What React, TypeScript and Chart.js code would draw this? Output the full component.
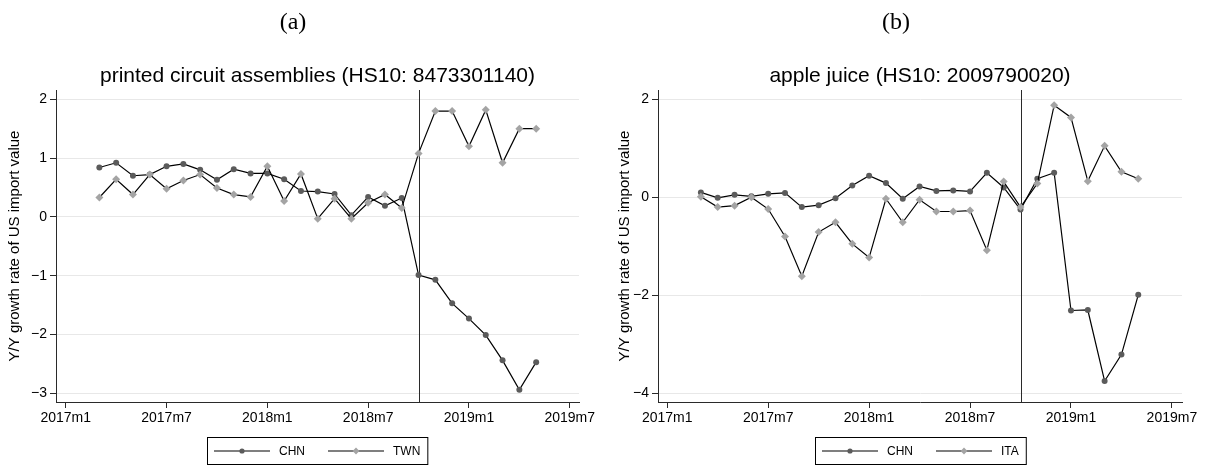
import React, { useEffect, useRef } from "react";
import { Chart, registerables } from "chart.js";

Chart.register(...registerables);

// ---------- data ----------
const months = [
  "2017m3", "2017m4", "2017m5", "2017m6", "2017m7", "2017m8", "2017m9", "2017m10", "2017m11", "2017m12",
  "2018m1", "2018m2", "2018m3", "2018m4", "2018m5", "2018m6", "2018m7", "2018m8", "2018m9", "2018m10", "2018m11", "2018m12",
  "2019m1", "2019m2", "2019m3", "2019m4", "2019m5",
];
const tickMonths = ["2017m1", "2017m7", "2018m1", "2018m7", "2019m1", "2019m7"];
const policyMonth = "2018m10";

const pcaChn = [
  0.84, 0.92, 0.70, 0.72, 0.86, 0.90, 0.80, 0.63, 0.81, 0.74,
  0.74, 0.64, 0.44, 0.43, 0.39, 0.03, 0.34, 0.19, 0.32, -0.99, -1.07, -1.47,
  -1.73, -2.01, -2.44, -2.94, -2.47,
];
const pcaTwn = [
  0.33, 0.64, 0.38, 0.72, 0.48, 0.62, 0.72, 0.49, 0.38, 0.34,
  0.86, 0.27, 0.73, -0.03, 0.31, -0.03, 0.24, 0.38, 0.15, 1.08, 1.80, 1.80,
  1.20, 1.82, 0.92, 1.50, 1.50,
];
const ajChn = [
  0.10, -0.01, 0.05, 0.02, 0.07, 0.09, -0.20, -0.16, -0.02, 0.24,
  0.44, 0.29, -0.03, 0.22, 0.13, 0.14, 0.12, 0.50, 0.20, -0.25, 0.38, 0.50,
  -2.31, -2.30, -3.75, -3.21, -1.99,
];
const ajIta = [
  0.01, -0.20, -0.17, 0.00, -0.24, -0.80, -1.61, -0.71, -0.51, -0.95,
  -1.23, -0.03, -0.51, -0.05, -0.29, -0.29, -0.27, -1.08, 0.32, -0.20, 0.28, 1.88,
  1.63, 0.33, 1.05, 0.52, 0.38,
];
const pcaYTicks = [-3, -2, -1, 0, 1, 2];
const ajYTicks = [-4, -2, 0, 2];

const yTitle = "Y/Y growth rate of US import value";

// ---------- helpers ----------
function monthIndex(s: string): number {
  const [y, m] = s.split("m");
  return (Number(y) - 2017) * 12 + Number(m) - 1;
}
function monthLabel(v: number): string {
  const y = 2017 + Math.floor(v / 12);
  const m = (v % 12) + 1;
  return `${y}m${m}`;
}
function fmtY(v: number): string {
  return v < 0 ? "\u2212" + Math.abs(v) : String(v);
}

const SANS = "'Liberation Sans', Arial, Helvetica, sans-serif";
const SERIF = "'Liberation Serif', 'DejaVu Serif', serif";
const CHN_COLOR = "#5b5b5b";
const OTHER_COLOR = "#a4a4a4";
const AXIS_COLOR = "#2a2a2a";

function drawMarker(ctx: CanvasRenderingContext2D, style: string, x: number, y: number, r: number, color: string) {
  ctx.fillStyle = color;
  ctx.beginPath();
  if (style === "circle") {
    ctx.arc(x, y, r, 0, Math.PI * 2);
  } else {
    ctx.moveTo(x, y - r);
    ctx.lineTo(x + r, y);
    ctx.lineTo(x, y + r);
    ctx.lineTo(x - r, y);
    ctx.closePath();
  }
  ctx.fill();
}

const panelDeco = {
  id: "panelDeco",
  beforeDatasetsDraw(chart: any, _args: any, opts: any) {
    const { ctx, chartArea, scales } = chart;
    const x = Math.round(scales.x.getPixelForValue(monthIndex(opts.vline))) + 0.5;
    ctx.save();
    ctx.strokeStyle = AXIS_COLOR;
    ctx.lineWidth = 1;
    ctx.beginPath();
    ctx.moveTo(x, chartArea.top);
    ctx.lineTo(x, chartArea.bottom);
    ctx.stroke();
    ctx.restore();
  },
  afterDraw(chart: any, _args: any, opts: any) {
    const { ctx, chartArea } = chart;
    const cx = (chartArea.left + chartArea.right) / 2;
    ctx.save();
    // panel label
    ctx.fillStyle = "#000";
    ctx.font = `24px ${SERIF}`;
    ctx.textAlign = "center";
    ctx.textBaseline = "middle";
    ctx.fillText(opts.label, opts.labelX, 23);
    // subtitle
    ctx.font = `21px ${SANS}`;
    ctx.textBaseline = "alphabetic";
    ctx.fillText(opts.subtitle, cx, 82);
    // legend
    ctx.font = `12px ${SANS}`;
    const pad = 7, lineLen = 56, gapText = 9, gapEntry = 23;
    const entries = opts.entries as { text: string; color: string; style: string }[];
    let total = pad * 2;
    entries.forEach((e, i) => {
      total += lineLen + gapText + ctx.measureText(e.text).width;
      if (i > 0) total += gapEntry;
    });
    const left = Math.round(cx - total / 2);
    const top = 437;
    const h = 27;
    const midY = top + h / 2;
    ctx.strokeStyle = "#000";
    ctx.lineWidth = 1;
    ctx.strokeRect(left + 0.5, top + 0.5, total, h);
    let x = left + pad;
    entries.forEach((e, i) => {
      if (i > 0) x += gapEntry;
      ctx.strokeStyle = "#000";
      ctx.lineWidth = 1.1;
      ctx.beginPath();
      ctx.moveTo(x, midY + 0.5);
      ctx.lineTo(x + lineLen, midY + 0.5);
      ctx.stroke();
      drawMarker(ctx, e.style, x + lineLen / 2, midY + 0.5, e.style === "circle" ? 2.6 : 3.4, e.color);
      x += lineLen + gapText;
      ctx.fillStyle = "#000";
      ctx.textAlign = "left";
      ctx.textBaseline = "middle";
      ctx.fillText(e.text, x, midY + 1);
      x += ctx.measureText(e.text).width;
    });
    ctx.restore();
  },
};

type PanelCfg = {
  left: number;
  width: number;
  axisLeft: number;
  padRight: number;
  titlePad: number;
  yMin: number;
  yMax: number;
  yTicks: number[];
  xMin: number;
  xMax: number;
  label: string;
  labelX: number;
  subtitle: string;
  series: { name: string; values: number[]; color: string; style: string }[];
};

function Panel({ cfg }: { cfg: PanelCfg }) {
  const ref = useRef<HTMLCanvasElement>(null);
  useEffect(() => {
    if (!ref.current) return;
    const datasets = cfg.series.map((s, i) => ({
      label: s.name,
      data: months.map((m, k) => ({ x: monthIndex(m), y: s.values[k] })),
      borderColor: "#000",
      borderWidth: 1.2,
      tension: 0,
      fill: false,
      pointStyle: s.style === "circle" ? "circle" : "rectRot",
      pointRadius: s.style === "circle" ? 3 : 4,
      pointBorderWidth: 0,
      pointBackgroundColor: s.color,
      pointBorderColor: s.color,
      order: cfg.series.length - i,
    }));
    const chart = new Chart(ref.current, {
      type: "line",
      data: { datasets },
      plugins: [panelDeco as any],
      options: {
        responsive: false,
        animation: false,
        devicePixelRatio: 1,
        layout: { padding: { left: 0, right: cfg.padRight, top: 90, bottom: 0 } },
        plugins: {
          legend: { display: false },
          tooltip: { enabled: false },
          title: { display: false },
          panelDeco: {
            vline: policyMonth,
            label: cfg.label,
            labelX: cfg.labelX,
            subtitle: cfg.subtitle,
            entries: cfg.series.map((s) => ({ text: s.name, color: s.color, style: s.style })),
          },
        } as any,
        scales: {
          x: {
            type: "linear",
            min: cfg.xMin,
            max: cfg.xMax,
            afterFit: (s: any) => {
              s.height = 64;
            },
            afterBuildTicks: (s: any) => {
              s.ticks = tickMonths.map((m) => ({ value: monthIndex(m) }));
            },
            ticks: {
              callback: (v: any) => monthLabel(Number(v)),
              font: { family: SANS, size: 14 },
              color: "#000",
              padding: 2,
              maxRotation: 0,
              autoSkip: false,
            },
            grid: { drawOnChartArea: false, tickLength: 6, tickColor: AXIS_COLOR, tickWidth: 1 },
            border: { color: AXIS_COLOR, width: 1 },
          },
          y: {
            type: "linear",
            min: cfg.yMin,
            max: cfg.yMax,
            afterFit: (s: any) => {
              s.width = cfg.axisLeft;
            },
            afterBuildTicks: (s: any) => {
              s.ticks = cfg.yTicks.map((v) => ({ value: v }));
            },
            ticks: {
              callback: (v: any) => fmtY(Number(v)),
              font: { family: SANS, size: 14 },
              color: "#000",
              padding: 3,
              autoSkip: false,
            },
            grid: { color: "#e8e8e8", lineWidth: 1, tickLength: 6, tickColor: AXIS_COLOR, tickWidth: 1 },
            border: { color: AXIS_COLOR, width: 1 },
            title: {
              display: true,
              text: yTitle,
              font: { family: SANS, size: 15 },
              color: "#000",
              padding: { top: cfg.titlePad, bottom: 0 },
            },
          },
        },
      } as any,
    });
    return () => chart.destroy();
  }, [cfg]);
  return (
    <canvas
      ref={ref}
      width={cfg.width}
      height={466}
      style={{ position: "absolute", left: cfg.left, top: 0, width: cfg.width, height: 466 }}
    />
  );
}

const leftCfg: PanelCfg = {
  left: 0,
  width: 604,
  axisLeft: 56,
  padRight: 25,
  titlePad: 6,
  yMin: -3.148,
  yMax: 2.158,
  yTicks: pcaYTicks,
  xMin: -0.58,
  xMax: 30.55,
  label: "(a)",
  labelX: 293,
  subtitle: "printed circuit assemblies (HS10: 8473301140)",
  series: [
    { name: "CHN", values: pcaChn, color: CHN_COLOR, style: "circle" },
    { name: "TWN", values: pcaTwn, color: OTHER_COLOR, style: "diamond" },
  ],
};

const rightCfg: PanelCfg = {
  left: 604,
  width: 605,
  axisLeft: 54,
  padRight: 27,
  titlePad: 12,
  yMin: -4.178,
  yMax: 2.19,
  yTicks: ajYTicks,
  xMin: -0.55,
  xMax: 30.6,
  label: "(b)",
  labelX: 292,
  subtitle: "apple juice (HS10: 2009790020)",
  series: [
    { name: "CHN", values: ajChn, color: CHN_COLOR, style: "circle" },
    { name: "ITA", values: ajIta, color: OTHER_COLOR, style: "diamond" },
  ],
};

export default function App() {
  return (
    <div style={{ position: "absolute", left: 0, top: 0, width: 1209, height: 466, background: "#fff" }}>
      <Panel cfg={leftCfg} />
      <Panel cfg={rightCfg} />
    </div>
  );
}
